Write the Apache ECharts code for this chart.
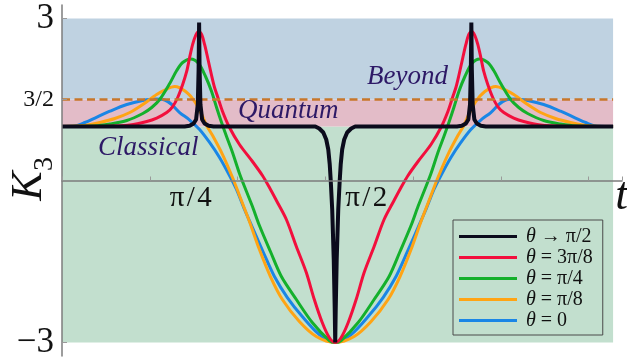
<!DOCTYPE html>
<html>
<head>
<meta charset="utf-8">
<title>K3</title>
<script src="https://cdn.jsdelivr.net/npm/echarts@6/dist/echarts.min.js"></script>
<style>
	html, body { margin: 0; padding: 0; background: #fff; }
	#chart { width: 627px; height: 358px; }
</style>
</head>
<body>
<div id="chart"></div>
<script>
// x values are t/π ; y values are K3
const xTickStep = 0.125
const xLabelValues = [0.25, 0.5]
const xLabelTexts = ['π\u200a/\u200a4', 'π\u200a/\u200a2']
const yTickValues = [-3, 1.5, 3]
const yLabelTexts = ['{big|\u22123}', '{mid|3/2}', '{big|3}']
const regionEdges = [-3, 1, 1.5, 3] // classical / quantum / beyond
const dashedLevel = [[0.125, 1.5], [0.91, 1.5]]

const legendOrder = ['θ → π/2', 'θ = 3π/8', 'θ = π/4', 'θ = π/8', 'θ = 0']

// θ → π/2
const kBlack = [[0.125, 1.0], [0.2997, 1.0], [0.3068, 1.013], [0.3125, 1.056], [0.3160, 1.13], [0.3184, 1.407], [0.3196, 2.056], [0.3203, 2.926], [0.3210, 2.056], [0.3222, 1.407], [0.3246, 1.13], [0.3281, 1.056], [0.3338, 1.013], [0.3409, 1.0], [0.4858, 1.0], [0.4915, 0.963], [0.4972, 0.889], [0.5014, 0.759], [0.5043, 0.574], [0.5064, 0.296], [0.5078, 0], [0.5099, -0.537], [0.5121, -1.463], [0.5135, -2.389], [0.5142, -3.0], [0.5149, -2.389], [0.5163, -1.463], [0.5185, -0.537], [0.5206, 0], [0.5220, 0.296], [0.5241, 0.574], [0.5270, 0.759], [0.5312, 0.889], [0.5369, 0.963], [0.5426, 1.0], [0.6875, 1.0], [0.6946, 1.013], [0.7003, 1.056], [0.7038, 1.13], [0.7062, 1.407], [0.7074, 2.056], [0.7081, 2.926], [0.7088, 2.056], [0.7100, 1.407], [0.7124, 1.13], [0.7159, 1.056], [0.7216, 1.013], [0.7287, 1.0], [0.91, 1.0]]
// θ = 3π/8
const kRed = [[0.125, 1.0], [0.1932, 1.006], [0.2216, 1.028], [0.2457, 1.093], [0.2599, 1.157], [0.2741, 1.259], [0.2827, 1.370], [0.2898, 1.537], [0.2969, 1.778], [0.3026, 2.019], [0.3068, 2.278], [0.3111, 2.519], [0.3153, 2.685], [0.3196, 2.759], [0.3239, 2.704], [0.3281, 2.519], [0.3324, 2.278], [0.3381, 1.944], [0.3423, 1.722], [0.3466, 1.556], [0.3537, 1.278], [0.3636, 0.981], [0.3778, 0.667], [0.3963, 0.352], [0.4105, 0.093], [0.4205, -0.130], [0.4304, -0.370], [0.4446, -0.722], [0.4588, -1.222], [0.4730, -1.704], [0.4844, -2.204], [0.4957, -2.630], [0.5057, -2.907], [0.5142, -3.0], [0.5227, -2.907], [0.5327, -2.630], [0.5440, -2.204], [0.5554, -1.704], [0.5696, -1.222], [0.5838, -0.722], [0.5980, -0.370], [0.6079, -0.130], [0.6179, 0.093], [0.6321, 0.352], [0.6506, 0.667], [0.6648, 0.981], [0.6747, 1.278], [0.6818, 1.556], [0.6861, 1.722], [0.6903, 1.944], [0.6960, 2.278], [0.7003, 2.519], [0.7045, 2.704], [0.7088, 2.759], [0.7131, 2.685], [0.7173, 2.519], [0.7216, 2.278], [0.7258, 2.019], [0.7315, 1.778], [0.7386, 1.537], [0.7457, 1.370], [0.7543, 1.259], [0.7685, 1.157], [0.7827, 1.093], [0.8068, 1.028], [0.8352, 1.006], [0.9034, 1.0], [0.91, 1.0]]
// θ = π/4
const kGreen = [[0.125, 1.0], [0.1719, 1.009], [0.1932, 1.046], [0.2173, 1.111], [0.2401, 1.241], [0.2528, 1.352], [0.2642, 1.5], [0.2784, 1.796], [0.2884, 2.037], [0.2969, 2.185], [0.3082, 2.25], [0.3196, 2.167], [0.3295, 1.926], [0.3381, 1.648], [0.3452, 1.352], [0.3523, 1.074], [0.3594, 0.815], [0.3679, 0.519], [0.3778, 0.130], [0.3878, -0.204], [0.3963, -0.481], [0.4062, -0.833], [0.4219, -1.315], [0.4375, -1.778], [0.4588, -2.204], [0.4815, -2.630], [0.5057, -2.963], [0.5142, -3.0], [0.5227, -2.963], [0.5469, -2.630], [0.5696, -2.204], [0.5909, -1.778], [0.6065, -1.315], [0.6222, -0.833], [0.6321, -0.481], [0.6406, -0.204], [0.6506, 0.130], [0.6605, 0.519], [0.6690, 0.815], [0.6761, 1.074], [0.6832, 1.352], [0.6903, 1.648], [0.6989, 1.926], [0.7088, 2.167], [0.7202, 2.25], [0.7315, 2.185], [0.7400, 2.037], [0.7500, 1.796], [0.7642, 1.5], [0.7756, 1.352], [0.7883, 1.241], [0.8111, 1.111], [0.8352, 1.046], [0.8565, 1.009], [0.9034, 1.0], [0.91, 1.0]]
// θ = π/8
const kOrange = [[0.125, 1.0], [0.1577, 1.019], [0.1790, 1.074], [0.2003, 1.148], [0.2216, 1.259], [0.2401, 1.407], [0.2599, 1.593], [0.2727, 1.685], [0.2855, 1.741], [0.3011, 1.648], [0.3139, 1.463], [0.3239, 1.222], [0.3310, 1.019], [0.3395, 0.833], [0.3537, 0.481], [0.3679, 0.056], [0.3778, -0.278], [0.3920, -0.759], [0.4062, -1.278], [0.4219, -1.778], [0.4389, -2.204], [0.4631, -2.611], [0.4872, -2.889], [0.5142, -3.0], [0.5412, -2.889], [0.5653, -2.611], [0.5895, -2.204], [0.6065, -1.778], [0.6222, -1.278], [0.6364, -0.759], [0.6506, -0.278], [0.6605, 0.056], [0.6747, 0.481], [0.6889, 0.833], [0.6974, 1.019], [0.7045, 1.222], [0.7145, 1.463], [0.7273, 1.648], [0.7429, 1.741], [0.7557, 1.685], [0.7685, 1.593], [0.7883, 1.407], [0.8068, 1.259], [0.8281, 1.148], [0.8494, 1.074], [0.8707, 1.019], [0.9034, 1.0], [0.91, 1.0]]
// θ = 0
const kBlue = [[0.125, 1.0], [0.1435, 1.009], [0.1577, 1.074], [0.1719, 1.157], [0.1932, 1.283], [0.2173, 1.407], [0.2401, 1.481], [0.2571, 1.509], [0.2713, 1.491], [0.2813, 1.407], [0.2926, 1.259], [0.3068, 1.12], [0.3210, 0.944], [0.3352, 0.704], [0.3494, 0.426], [0.3636, 0.093], [0.3736, -0.167], [0.3850, -0.537], [0.3963, -0.870], [0.4119, -1.333], [0.4276, -1.778], [0.4460, -2.167], [0.4673, -2.519], [0.4915, -2.852], [0.5142, -3.0], [0.5369, -2.852], [0.5611, -2.519], [0.5824, -2.167], [0.6008, -1.778], [0.6165, -1.333], [0.6321, -0.870], [0.6434, -0.537], [0.6548, -0.167], [0.6648, 0.093], [0.6790, 0.426], [0.6932, 0.704], [0.7074, 0.944], [0.7216, 1.12], [0.7358, 1.259], [0.7471, 1.407], [0.7571, 1.491], [0.7713, 1.509], [0.7883, 1.481], [0.8111, 1.407], [0.8352, 1.283], [0.8565, 1.157], [0.8707, 1.074], [0.8849, 1.009], [0.9034, 1.0], [0.91, 1.0]]

const serif = "'Liberation Serif', serif"
const xStart = 0.125
const xEnd = 0.91 // end of shaded bands
const regionColors = ['#c2dfce', '#e3bcc8', '#bfd2e1']
const regionInk = '#2d1966'

let chart = echarts.init(document.getElementById('chart'))

function curve (name, data, color, width, smooth) {
	return {
		name: name,
		type: 'line',
		data: data,
		symbol: 'none',
		color: color,
		smooth: smooth,
		silent: true,
		z: 3,
		lineStyle: { width: width, join: smooth ? 'round' : 'bevel' }
	}
}

function regionText (text, x, y) {
	return {
		type: 'text', x: x, y: y, z: 20, silent: true,
		style: { text: text, fontFamily: serif, fontStyle: 'italic', fontSize: 27, fill: regionInk, align: 'left', verticalAlign: 'middle' }
	}
}

let bands = []
for (let i = 0; i < 3; i++) {
	bands.push([
		{ xAxis: xStart, yAxis: regionEdges[i], itemStyle: { color: regionColors[i] } },
		{ xAxis: xEnd, yAxis: regionEdges[i + 1] }
	])
}

let option = {
	animation: false,
	grid: { left: 62, right: 5, top: 5, bottom: 2, outerBoundsMode: 'none' },
	xAxis: {
		type: 'value',
		min: 0.125,
		max: 0.9227,
		interval: xTickStep,
		z: 4,
		axisLine: { onZero: true, lineStyle: { color: '#7c7c7c', width: 1.5 } },
		axisTick: { show: true, inside: true, length: 4, lineStyle: { color: '#9a9a9a' } },
		axisLabel: { show: false },
		splitLine: { show: false }
	},
	yAxis: {
		type: 'value',
		min: -3.25,
		max: 3.25,
		z: 4,
		axisLine: { show: true, onZero: false, lineStyle: { color: '#7c7c7c', width: 1.5 } },
		axisTick: { show: true, inside: true, length: 5, customValues: yTickValues, lineStyle: { color: '#9a9a9a' } },
		axisLabel: {
			customValues: yTickValues,
			formatter: function (v) {
				let i = yTickValues.findIndex(y => Math.abs(y - v) < 1e-6)
				return i >= 0 ? yLabelTexts[i] : ''
			},
			margin: 8,
			color: '#111',
			rich: {
				big: { fontFamily: serif, fontSize: 35, color: '#111' },
				mid: { fontFamily: serif, fontSize: 24, color: '#111' }
			}
		},
		splitLine: { show: false }
	},
	legend: {
		data: legendOrder,
		orient: 'vertical',
		left: 453,
		top: 220,
		padding: [6, 10, 4, 6],
		itemGap: 0,
		itemWidth: 58,
		itemHeight: 3,
		icon: 'rect',
		borderColor: '#4a4a4a',
		borderWidth: 1,
		formatter: function (name) {
			return name.replace('θ', '{i|θ}')
		},
		textStyle: {
			fontFamily: serif,
			fontSize: 20,
			lineHeight: 21,
			color: '#111',
			padding: [0, 0, 0, 4],
			rich: {
				i: { fontFamily: serif, fontSize: 20, fontStyle: 'italic', color: '#111' }
			}
		}
	},
	graphic: [
		regionText('Beyond', 367, 77),
		regionText('Quantum', 238, 111),
		regionText('Classical', 98, 148),
		{ type: 'text', x: 29, y: 186, rotation: Math.PI / 2, silent: true, style: { text: 'K', fontFamily: serif, fontStyle: 'italic', fontSize: 44, fill: '#111', align: 'center', verticalAlign: 'middle' } },
		{ type: 'text', x: 45, y: 164, rotation: Math.PI / 2, silent: true, style: { text: '3', fontFamily: serif, fontSize: 28, fill: '#111', align: 'center', verticalAlign: 'middle' } },
		{ type: 'text', x: 628, y: 197, silent: true, style: { text: 't', fontFamily: serif, fontStyle: 'italic', fontSize: 46, fill: '#111', align: 'right', verticalAlign: 'middle' } }
	],
	series: [
		{
			type: 'line',
			data: [],
			silent: true,
			z: 1,
			markArea: { silent: true, z: 1, data: bands }
		},
		curve(legendOrder[4], kBlue, '#1a86e6', 3, 0.3),
		curve(legendOrder[3], kOrange, '#ffa414', 3, 0.3),
		curve(legendOrder[2], kGreen, '#14b02c', 3, 0.3),
		curve(legendOrder[1], kRed, '#f20f3d', 3, 0.3),
		{
			type: 'line',
			data: dashedLevel,
			symbol: 'none',
			silent: true,
			z: 3,
			lineStyle: { color: '#c8772a', width: 2.5, type: [8, 4.5] }
		},
		curve(legendOrder[0], kBlack, '#0b0b1c', 4, false)
	]
}

chart.setOption(option)

// t-axis tick labels, placed just right of their ticks below the axis line
let tickTexts = xLabelValues.map(function (v, i) {
	let p = chart.convertToPixel({ gridIndex: 0 }, [v, 0])
	return {
		type: 'text',
		id: 'xlab' + i,
		x: p[0] + 20,
		y: p[1] + 3,
		z: 20,
		silent: true,
		style: { text: xLabelTexts[i], fontFamily: serif, fontSize: 29, fill: '#111', align: 'left', verticalAlign: 'top' }
	}
})
chart.setOption({ graphic: tickTexts })
</script>
</body>
</html>
